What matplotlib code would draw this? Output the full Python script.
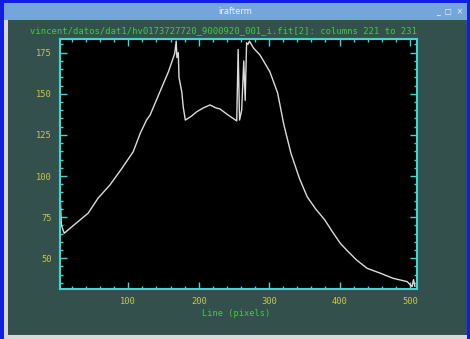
import numpy as np
import matplotlib
matplotlib.use("Agg")
import matplotlib.pyplot as plt
from matplotlib.patches import Rectangle
from matplotlib.ticker import MultipleLocator

# data (column sum vs line)
line_px = [1, 3, 5, 9, 25, 43, 57, 74, 91, 107, 117, 126, 131, 145, 157, 166,
           168, 169, 171, 172, 176, 178, 181, 190, 197, 207, 216, 224, 230, 242,
           254, 256, 258, 261, 264, 266, 268, 270, 272, 278, 287, 301, 312, 321,
           331, 343, 354, 366, 379, 390, 401, 410, 424, 439, 458, 476, 496,
           503, 505, 507]
counts = [68, 91, 70, 65.2, 71, 77.4, 86.5, 94.6, 104.7, 114.8, 126, 134.1, 137.1, 151.3, 163.4, 174.6,
          182, 172, 175, 160, 151, 142, 134, 136.5, 139, 141.5, 143.2, 141.5, 140.8, 137,
          133.5, 177, 134, 140, 170, 146, 181, 180, 182, 177.7, 173.6, 163.4, 150.6, 131,
          113.8, 98.6, 87.4, 80, 73.3, 66, 59.1, 55, 49, 43.9, 40.9, 37.8, 35.8,
          32.7, 37, 33]

title = "vincent/datos/dat1/hv0173727720_9000920_001_i.fit[2]: columns 221 to 231"
xlabel = "Line (pixels)"

W, H = 470, 339
bg = "#34504d"
cyan = "#3fd8d0"
green = "#3ccf3c"
yellow = "#c8c84a"

fig = plt.figure(figsize=(W / 100, H / 100), dpi=100)
fig.patch.set_facecolor(bg)

def box(x0, y0, x1, y1, color):
    # pixel coords from top-left
    fig.add_artist(Rectangle((x0 / W, 1 - y1 / H), (x1 - x0) / W, (y1 - y0) / H,
                             transform=fig.transFigure, color=color, lw=0, zorder=-1))

# window chrome
box(0, 0, W, 3, "#1020e0")
box(0, 0, 4, H, "#1020e0")
box(467, 0, W, H, "#1020e0")
box(4, 3, 8, H, "#d8d8d8")
box(4, 335, 467, H, "#d8d8d8")
box(4, 3, 467, 20, "#74a6dc")
fig.text(235 / W, 1 - 12 / H, "irafterm", color="#eef4ff", fontsize=6,
         ha="center", va="center")
fig.text(450 / W, 1 - 12 / H, "_  \u25a1  \u00d7", color="#eef4ff", fontsize=5.5,
         ha="center", va="center")

ax = fig.add_axes([60 / W, 1 - 289 / H, (417 - 60) / W, (289 - 39) / H])
ax.set_facecolor("black")
ax.plot(line_px, counts, color="#dcdcdc", lw=1.0)
ax.set_xlim(3, 510)
ax.set_ylim(31.3, 183.3)

ax.xaxis.set_major_locator(MultipleLocator(100))
ax.xaxis.set_minor_locator(MultipleLocator(20))
ax.yaxis.set_major_locator(MultipleLocator(25))
ax.yaxis.set_minor_locator(MultipleLocator(5))
ax.tick_params(which="both", direction="in", top=True, right=True, color=cyan,
               labelcolor=yellow, labelsize=6.3, pad=6)
ax.tick_params(which="major", length=5, width=1)
ax.tick_params(which="minor", length=2.5, width=1)
for lab in ax.get_xticklabels() + ax.get_yticklabels():
    lab.set_family("DejaVu Sans Mono")
for s in ax.spines.values():
    s.set_color(cyan)
    s.set_linewidth(1.5)

fig.text(224 / W, 1 - 31 / H, title, color=green, fontsize=6.4,
         family="DejaVu Sans Mono", ha="center", va="center")
fig.text(236 / W, 1 - 314 / H, xlabel, color=green, fontsize=6.2,
         family="DejaVu Sans Mono", ha="center", va="center")

fig.savefig("out.png", dpi=100, facecolor=fig.get_facecolor())
